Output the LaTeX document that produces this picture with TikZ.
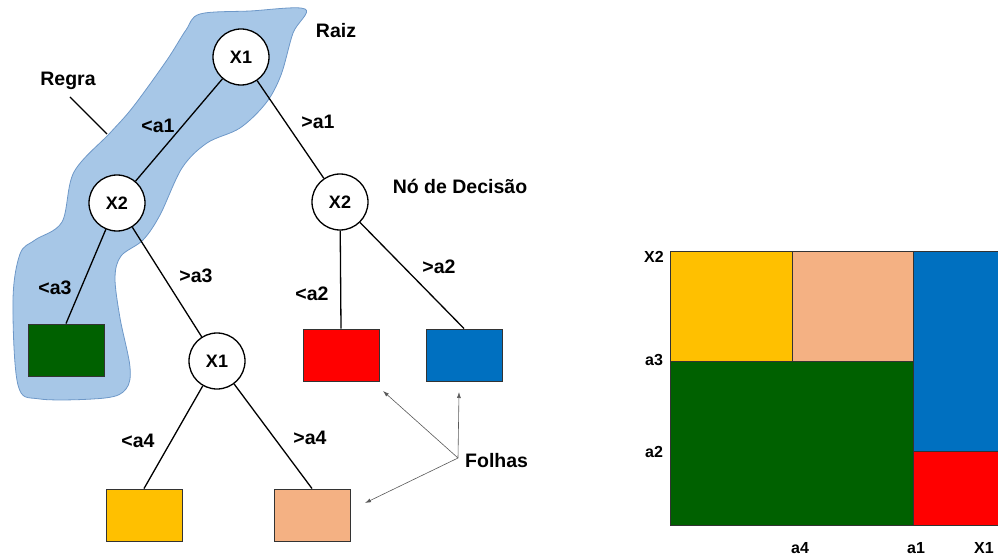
\documentclass[tikz,border=0pt]{standalone}
\usepackage{fontspec}
\setmainfont{Liberation Sans}
\usetikzlibrary{arrows.meta}
\definecolor{blobfill}{HTML}{A7C7E7}
\definecolor{blobline}{HTML}{6E98C8}
\definecolor{lgreen}{HTML}{006100}
\definecolor{lred}{HTML}{FF0000}
\definecolor{lblue}{HTML}{0070C0}
\definecolor{lyellow}{HTML}{FFC000}
\definecolor{lpeach}{HTML}{F4B183}
\tikzset{
  dnode/.style={circle, draw=black, line width=1.3pt, fill=white, minimum size=56pt, inner sep=0pt, font=\fontsize{18}{20}\selectfont\bfseries},
  leaf/.style={draw=black!80, line width=0.9pt, minimum width=76pt, minimum height=52pt, inner sep=0pt},
  edge/.style={line width=1.3pt, draw=black},
  lbl/.style={font=\fontsize{19.5}{22}\selectfont\bfseries, inner sep=0pt},
  axl/.style={font=\fontsize{16}{18}\selectfont\bfseries, inner sep=0pt},
  pointer/.style={draw=black!65, line width=0.6pt, -{Latex[length=6pt,width=4pt]}},
  part/.style={draw=black!80, line width=0.9pt}
}
\begin{document}
\begin{tikzpicture}[x=1pt, y=-1pt]
\useasboundingbox (0,0) rectangle (998,556);
% rule blob
\draw[fill=blobfill, draw=blobline, line width=0.8pt] plot[smooth cycle, tension=0.55] coordinates {
 (200,14) (250,11) (305,9) (293,33) (281,75) (266,103) (240,128) (207,143)
 (182,168) (160,215) (143,240) (121,256) (115,278) (120,318) (130,367) (126,389)
 (105,398) (40,399) (18,385) (13,300) (20,254) (35,240) (62,222) (74,172)
 (110,133) (133,107) (167,60) (186,30)};
% decision nodes
\node[dnode] (r) at (241,57) {X1};
\node[dnode] (a) at (117,203) {X2};
\node[dnode] (b) at (340,202) {X2};
\node[dnode] (c) at (217,361) {X1};
% leaves
\node[leaf, fill=lgreen] (lg) at (66,350) {};
\node[leaf, fill=lred] (lr) at (341,355) {};
\node[leaf, fill=lblue] (lb) at (464,355) {};
\node[leaf, fill=lyellow] (ly) at (144,515) {};
\node[leaf, fill=lpeach] (lp) at (312,515) {};
% edges
\draw[edge] (r) -- (a);
\draw[edge] (r) -- (b);
\draw[edge] (a) -- (lg.north);
\draw[edge] (a) -- (c);
\draw[edge] (b) -- (lr.north);
\draw[edge] (b) -- (lb.north);
\draw[edge] (c) -- (ly.north);
\draw[edge] (c) -- (lp.north);
% edge labels
\node[lbl] (e1) at (158,126) {<a1};
\node[lbl] (e2) at (318,122) {>a1};
\node[lbl] (e3) at (55,288) {<a3};
\node[lbl] (e4) at (196,276) {>a3};
\node[lbl] (e5) at (312,294) {<a2};
\node[lbl] (e6) at (439,267) {>a2};
\node[lbl] (e7) at (138,441) {<a4};
\node[lbl] (e8) at (310,438) {>a4};
% annotations
\node[lbl] (raiz) at (336,31) {Raiz};
\node[lbl] (regra) at (68,81) {Regra};
\node[lbl] (nd) at (460,186) {Nó de Decisão};
\node[lbl, anchor=west] (folhas) at (465,461) {Folhas};
\coordinate (rg1) at (70,97);
\coordinate (rg2) at (107,134);
\draw[line width=1.1pt] (rg1) -- (rg2);
\coordinate (fo) at (458,458);
\coordinate (t1) at (383,391);
\coordinate (t2) at (459,392);
\coordinate (t3) at (365,503);
\draw[pointer] (fo) -- (t1);
\draw[pointer] (fo) -- (t2);
\draw[pointer] (fo) -- (t3);
% partition
\fill[lyellow] (670,251) rectangle (792,361);
\fill[lpeach] (792,251) rectangle (913,361);
\fill[lgreen] (670,361) rectangle (913,525);
\fill[lblue] (913,251) rectangle (998,451);
\fill[lred] (913,451) rectangle (998,525);
\draw[part] (998,251) -- (670,251) -- (670,525) -- (998,525);
\draw[part] (670,361) -- (913,361);
\draw[part] (792,251) -- (792,361);
\draw[part] (913,251) -- (913,525);
\draw[part] (913,451) -- (998,451);
\node[axl] (yx2) at (654,257) {X2};
\node[axl] (ya3) at (654,360) {a3};
\node[axl] (ya2) at (654,452) {a2};
\node[axl] (xa4) at (800,548) {a4};
\node[axl] (xa1) at (916,548) {a1};
\node[axl] (xx1) at (984,548) {X1};
\end{tikzpicture}
\end{document}
